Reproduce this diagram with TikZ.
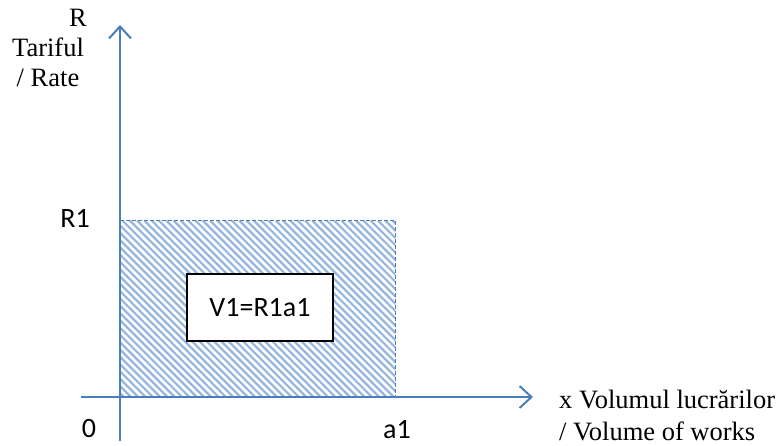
\documentclass[tikz,border=0pt]{standalone}
\usepackage{fontspec}
\setmainfont{Liberation Serif}
\newfontfamily\calib{Carlito}
\usetikzlibrary{arrows.meta}
\definecolor{axisblue}{RGB}{74,126,187}
\definecolor{hatchblue}{RGB}{150,182,226}
\tikzset{
  axisline/.style={draw=axisblue, line width=2pt, -{Straight Barb[length=12pt,width=22pt,line width=2pt]}},
  serlabel/.style={inner sep=0pt, font=\fontsize{26.5}{30}\selectfont},
  sanlabel/.style={inner sep=0pt, font=\calib\fontsize{28}{32}\selectfont},
  hatchline/.style={draw=hatchblue, line width=2.2pt},
}
\begin{document}
\begin{tikzpicture}[x=1pt,y=-1pt]
\useasboundingbox (0,0) rectangle (781,446);
% hatched area
\node[minimum width=275pt, minimum height=176pt, anchor=south west, inner sep=0pt]
      (area) at (120,397) {};
\begin{scope}
  \clip (area.north west) rectangle (area.south east);
  \foreach \s in {-180,-172.7,...,280} {
    \draw[hatchline] ([xshift=\s pt]area.north west) -- ++(200,200);
  }
\end{scope}
\draw[axisblue, line width=1.3pt, dash pattern=on 4pt off 2pt]
  (area.north west) rectangle (area.south east);
% axes
\coordinate (ybot) at (120,441);
\coordinate (ytop) at (120,25);
\coordinate (xleft) at (81,397);
\coordinate (xright) at (533,397);
\draw[axisline] (ybot) -- (ytop);
\draw[axisline] (xleft) -- (xright);
% formula box
\node[draw=black, line width=1.2pt, fill=white, minimum width=146pt, minimum height=67pt,
      font=\calib\fontsize{28}{32}\selectfont] (v1) at (260,307.5) {V1=R1a1};
% labels
\node[serlabel, anchor=base] (rlab) at (78,27) {R};
\node[serlabel, anchor=base] (tlab) at (48,57) {Tariful};
\node[serlabel, anchor=base] (ratelab) at (48,87) {/ Rate};
\node[sanlabel] (r1) at (75,218) {R1};
\node[sanlabel] (zero) at (89,429) {0};
\node[sanlabel] (a1) at (397,430) {a1};
\node[serlabel, anchor=base west] (xlab1) at (559,408) {x Volumul lucrărilor};
\node[serlabel, anchor=base west] (xlab2) at (559,440) {/ Volume of works};
\end{tikzpicture}
\end{document}
